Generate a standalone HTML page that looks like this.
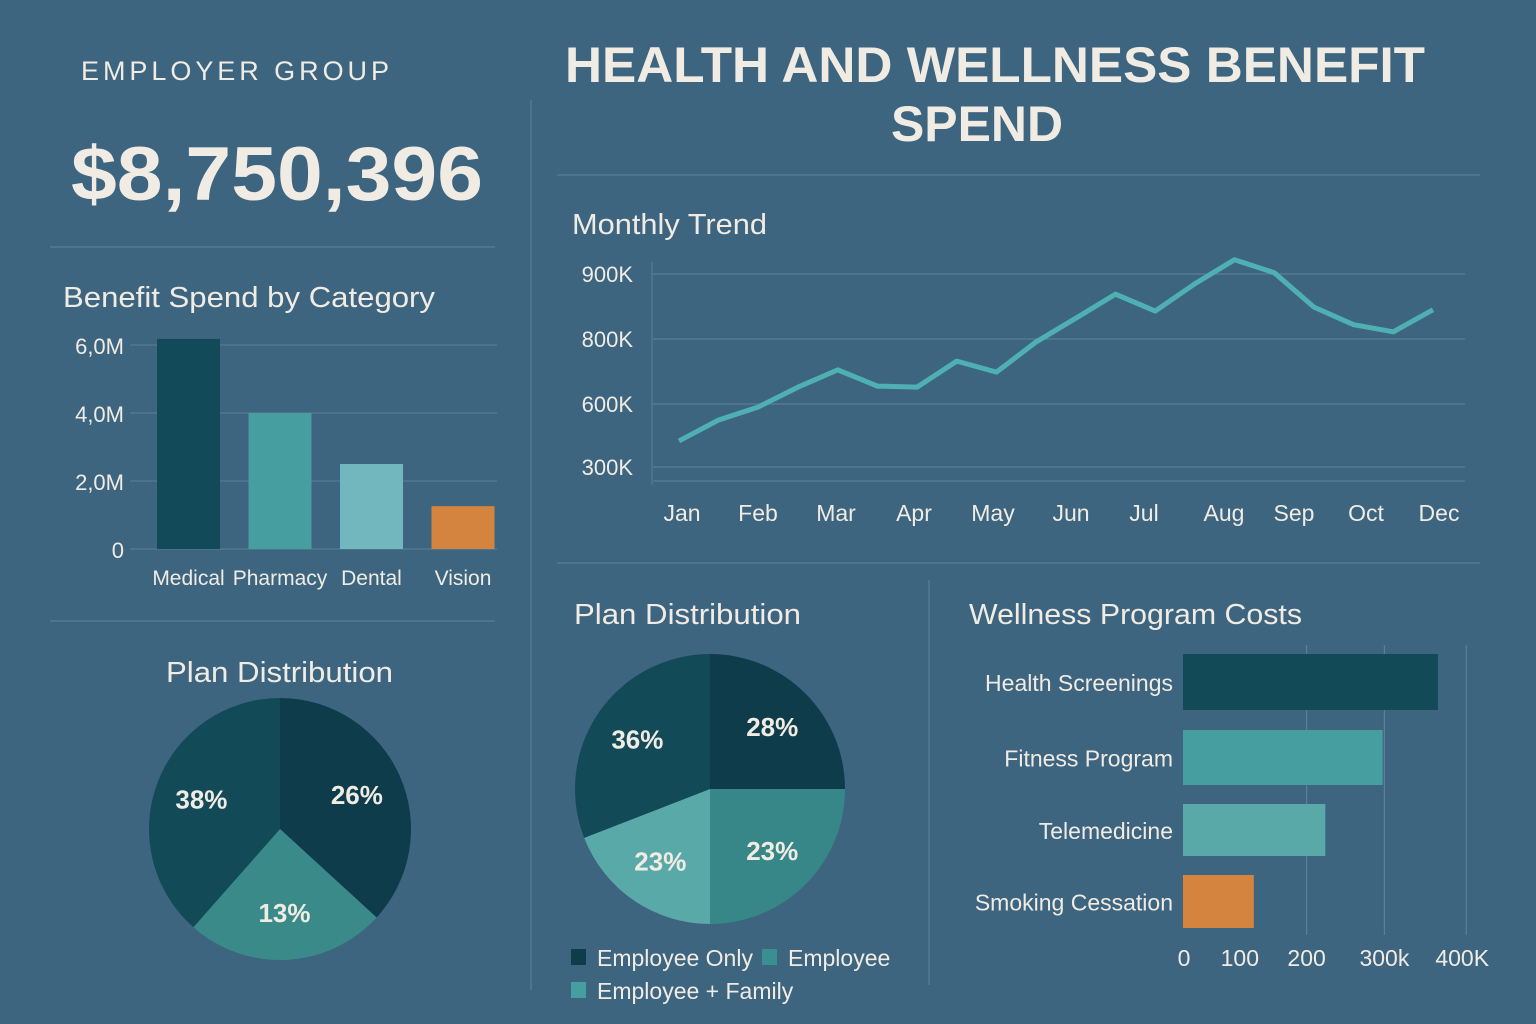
<!DOCTYPE html>
<html><head><meta charset="utf-8"><style>
html,body{margin:0;padding:0;background:#3d6580;}
svg{display:block;font-family:"Liberation Sans",sans-serif;}
</style></head><body>
<svg id="s" width="1536" height="1024" viewBox="0 0 1536 1024">
<rect width="1536" height="1024" fill="#3d6580"/>
<g stroke="#5a7f97" stroke-width="1.2">
<line x1="50" y1="247" x2="495" y2="247"/><line x1="50" y1="621" x2="495" y2="621"/>
<line x1="557" y1="175" x2="1480" y2="175"/><line x1="557" y1="563" x2="1480" y2="563"/>
<line x1="531" y1="100" x2="531" y2="990"/><line x1="929" y1="580" x2="929" y2="985"/>
</g>
<text x="81" y="80" fill="#f1ece3" font-size="27" letter-spacing="4" textLength="312">EMPLOYER GROUP</text>
<text x="71" y="200" fill="#f1ece3" font-size="76" font-weight="bold" textLength="412" lengthAdjust="spacingAndGlyphs">$8,750,396</text>
<text x="565" y="82" fill="#f1ece3" font-size="50" font-weight="bold" textLength="860" lengthAdjust="spacingAndGlyphs">HEALTH AND WELLNESS BENEFIT</text>
<text x="891" y="141" fill="#f1ece3" font-size="50" font-weight="bold" textLength="172" lengthAdjust="spacingAndGlyphs">SPEND</text>
<text x="63" y="307" fill="#f1ece3" font-size="29" textLength="372" lengthAdjust="spacingAndGlyphs">Benefit Spend by Category</text>
<text x="572" y="234" fill="#f1ece3" font-size="29" textLength="195" lengthAdjust="spacingAndGlyphs">Monthly Trend</text>
<text x="166" y="682" fill="#f1ece3" font-size="29" textLength="227" lengthAdjust="spacingAndGlyphs">Plan Distribution</text>
<text x="574" y="624" fill="#f1ece3" font-size="29" textLength="227" lengthAdjust="spacingAndGlyphs">Plan Distribution</text>
<text x="969" y="624" fill="#f1ece3" font-size="29" textLength="333" lengthAdjust="spacingAndGlyphs">Wellness Program Costs</text>
<g id="g"></g>
</svg>
<script>
// Category bar chart
const catNames = ['Medical','Pharmacy','Dental','Vision'];
const catValues = [6.18, 4.0, 2.5, 1.26];
const catTicks = [0, 2, 4, 6];
const catTickLabels = ['0','2,0M','4,0M','6,0M'];
// Monthly trend
const monthLabels = ['Jan','Feb','Mar','Apr','May','Jun','Jul','Aug','Sep','Oct','Dec'];
const trendValues = [424,524,586,652,705,655,652,732,698,791,832,869,843,885,922,902,849,822,811,845];
const trendTicks = [300,600,800,900];
const trendTickLabels = ['300K','600K','800K','900K'];
// Pies (slice shares as drawn in the picture; printed labels separately)
const leftPieValues = [36.8,24.7,38.5];
const leftPieLabels = ['26%','13%','38%'];
const rightPieValues = [25,25,19.1,30.9];
const rightPieLabels = ['28%','23%','23%','36%'];
const legendLabels = ['Employee Only','Employee','Employee + Family'];
// Wellness
const wellNames = ['Health Screenings','Fitness Program','Telemedicine','Smoking Cessation'];
const wellValues = [360,282,201,100];
const wellTicks = [0,100,200,300,400];
const wellTickLabels = ['0','100','200','300k','400K'];

const NS='http://www.w3.org/2000/svg', G=document.getElementById('g');
function mk(tag,attrs,parent){const e=document.createElementNS(NS,tag);for(const k in attrs)e.setAttribute(k,attrs[k]);(parent||G).appendChild(e);return e;}
function txt(x,y,s,size,anchor,extra){const t=mk('text',Object.assign({x:x,y:y,fill:'#f1ece3','font-size':size,'text-anchor':anchor||'start'},extra||{}));t.textContent=s;return t;}
const DARK='#124a5a', ORANGE='#d4843e';

// ---- category bars
const cy=v=>549-v*34;
catTicks.forEach((t,i)=>{
  const l=mk('line',{x1:130,x2:497,y1:cy(t),y2:cy(t),stroke:'#5a7f97','stroke-width':1});
  
  
  const tx=txt(124,cy(t)+9,catTickLabels[i],22,'end');
  
  
});
const catColors=[DARK,'#479ea0','#72b7bd',ORANGE];
catNames.forEach((n,i)=>{
  const x=157+i*91.5, w=63;
  const r=mk('rect',{x:x,y:cy(catValues[i]),width:w,height:549-cy(catValues[i]),fill:catColors[i]});
  
  
  const t=txt(x+w/2,585,n,21,'middle');
  
  
});

// ---- trend line (piecewise axis through tick positions)
const tickY=[467,404,339,274];
function ty(v){
  if(v<=trendTicks[0]) return tickY[0];
  for(let i=0;i<trendTicks.length-1;i++){
    if(v<=trendTicks[i+1]) return tickY[i]+(v-trendTicks[i])/(trendTicks[i+1]-trendTicks[i])*(tickY[i+1]-tickY[i]);
  }
  const n=trendTicks.length-1;
  return tickY[n]+(v-trendTicks[n])/(trendTicks[n]-trendTicks[n-1])*(tickY[n]-tickY[n-1]);
}
const tx=i=>679+i*(1433-679)/(trendValues.length-1);
trendTicks.forEach((t,i)=>{
  const l=mk('line',{x1:653,x2:1465,y1:ty(t),y2:ty(t),stroke:'#5a7f97','stroke-width':1.2});
  
  
  const s=txt(633,ty(t)+8,trendTickLabels[i],22,'end');
  
  
});
const base=mk('line',{x1:653,x2:1465,y1:481,y2:481,stroke:'#5a7f97','stroke-width':1.2});


const ax=mk('line',{x1:652,x2:652,y1:262,y2:485,stroke:'#5a7f97','stroke-width':1});


const pl=mk('polyline',{points:trendValues.map((v,i)=>tx(i)+','+ty(v)).join(' '),fill:'none',stroke:'#4fb0b4','stroke-width':5,'stroke-linejoin':'round'});


const mx=[682,758,836,914,993,1071,1144,1224,1294,1366,1439];
monthLabels.forEach((m,i)=>{
  const s=txt(mx[i],521,m,23,'middle');
  
  
});

// ---- pies
function pie(cx,cy0,r,vals,labels,colors,start,labR,name){
  const tot=vals.reduce((a,b)=>a+b,0);let a=start;
  vals.forEach((v,i)=>{
    const a2=a+v/tot*2*Math.PI;
    const p=(ang,rr)=>[cx+rr*Math.sin(ang),cy0-rr*Math.cos(ang)];
    const [x1,y1]=p(a,r),[x2,y2]=p(a2,r);
    const path=mk('path',{d:`M${cx},${cy0} L${x1},${y1} A${r},${r} 0 ${a2-a>Math.PI?1:0} 1 ${x2},${y2} Z`,fill:colors[i]});
    
    
    const [lx,ly]=p((a+a2)/2,labR);
    const t=txt(lx,ly+9,labels[i],26,'middle',{'font-weight':'bold'});
    
    
    a=a2;
  });
}
pie(280,829,131,leftPieValues,leftPieLabels,['#0e3c4b','#3a8a8a','#124a58'],0,84,'left-pie');
pie(710,789,135,rightPieValues,rightPieLabels,['#0e3c4b','#388788','#5aa9a9','#124a58'],0,88,'right-pie');
const legColors=['#0e3c4b','#3a8f90','#479ea0'];
const legPos=[[571,958],[762,958],[571,991]];
legendLabels.forEach((l,i)=>{
  const r=mk('rect',{x:legPos[i][0],y:legPos[i][1]-9,width:15,height:16,fill:legColors[i]});
  
  
  const t=txt(legPos[i][0]+26,legPos[i][1]+8,l,23,'start');
  
  
});

// ---- wellness bars
const wx=v=>1183+v*0.708;
const gridShift={200:-18,300:-11,400:0};
const labShift=[1,-14,-18,-11,-4];
wellTicks.forEach((t,i)=>{
  if(t>=200){const gx=wx(t)+gridShift[t];
  const l=mk('line',{x1:gx,x2:gx,y1:645,y2:935,stroke:'#5a7f97','stroke-width':1.2});
  
  }
  const s=txt(wx(t)+labShift[i],966,wellTickLabels[i],23,'middle');
  
  
});
const wellColors=['#124a58','#479ea0','#5aa9a9',ORANGE];
const wy=[654,730,804,875], wh=[56,55,52,53];
wellNames.forEach((n,i)=>{
  const r=mk('rect',{x:1183,y:wy[i],width:wx(wellValues[i])-1183,height:wh[i],fill:wellColors[i]});
  
  
  const t=txt(1173,wy[i]+wh[i]/2+9,n,23,'end');
  
  
});
</script>
</body></html>
